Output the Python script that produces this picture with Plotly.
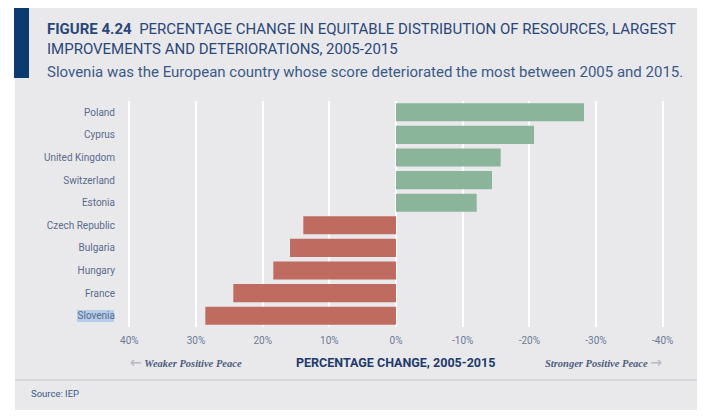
import plotly.graph_objects as go

countries = ["Poland", "Cyprus", "United Kingdom", "Switzerland", "Estonia",
             "Czech Republic", "Bulgaria", "Hungary", "France", "Slovenia"]
change_pct = [-28.2, -20.7, -15.7, -14.4, -12.1, 13.9, 15.9, 18.4, 24.4, 28.6]
tick_vals = [40, 30, 20, 10, 0, -10, -20, -30, -40]
tick_text = ["40%", "30%", "20%", "10%", "0%", "-10%", "-20%", "-30%", "-40%"]

GREEN = "#8AB59B"
RED = "#BF6B60"
bar_colors = [GREEN if v < 0 else RED for v in change_pct]

# page has an 8px body margin, so work in reference pixels and shift by 8
OFF = 8
W, H = 706 - OFF, 420 - OFF
L, R, T, B = 122 - OFF, 696 - OFF, 101 - OFF, 327 - OFF


def px(x):
    return (x - OFF - L) / (R - L)


def py(y):
    return (B - (y - OFF)) / (B - T)


fig = go.Figure(go.Bar(
    x=change_pct, y=countries, orientation="h",
    marker=dict(color=bar_colors, line=dict(width=0)),
    width=0.8, hoverinfo="x+y",
))

shapes = [
    dict(type="rect", xref="paper", yref="paper", x0=px(15), x1=px(697), y0=py(0), y1=py(410),
         fillcolor="#E9E9EB", line=dict(width=0), layer="below"),
    dict(type="rect", xref="paper", yref="paper", x0=px(14), x1=px(29), y0=py(0), y1=py(78),
         fillcolor="#0B3B70", line=dict(width=0), layer="below"),
    dict(type="line", xref="paper", yref="paper", x0=px(15), x1=px(697), y0=py(380), y1=py(380),
         line=dict(color="#D6D7DA", width=2), layer="below"),
    dict(type="rect", xref="paper", yref="paper", x0=px(77), x1=px(114), y0=py(310), y1=py(322),
         fillcolor="#B4CDE9", line=dict(width=0), layer="below"),
]

ARROW_STYLE = "color:#B8BCC4;font-family:DejaVu Sans;font-size:14px;font-weight:bold"

ann = [
    dict(x=px(45), y=py(18), xanchor="left", yanchor="top", align="left",
         text="<b>FIGURE 4.24</b>  PERCENTAGE CHANGE IN EQUITABLE DISTRIBUTION OF RESOURCES, LARGEST<br>IMPROVEMENTS AND DETERIORATIONS, 2005-2015",
         font=dict(family="Roboto", size=15, color="#2A4778")),
    dict(x=px(45), y=py(72), xanchor="left", yanchor="middle", align="left",
         text="Slovenia was the European country whose score deteriorated the most between 2005 and 2015.",
         font=dict(family="Roboto", size=15, color="#3A5A88")),
    dict(x=px(395), y=py(362), xanchor="center", yanchor="middle",
         text="<b>PERCENTAGE CHANGE, 2005-2015</b>",
         font=dict(family="Roboto", size=12.5, color="#1E3B6B")),
    dict(x=px(186), y=py(362), xanchor="center", yanchor="middle",
         text=f"<span style='{ARROW_STYLE}'>←</span> <b><i>Weaker Positive Peace</i></b>",
         font=dict(family="Liberation Serif", size=10.5, color="#4D5D7D")),
    dict(x=px(603), y=py(362), xanchor="center", yanchor="middle",
         text=f"<b><i>Stronger Positive Peace</i></b> <span style='{ARROW_STYLE}'>→</span>",
         font=dict(family="Liberation Serif", size=10.5, color="#4D5D7D")),
    dict(x=px(29), y=py(393), xanchor="left", yanchor="middle",
         text="Source: IEP",
         font=dict(family="Roboto", size=9.5, color="#3A5A88")),
]
for a in ann:
    a.update(xref="paper", yref="paper", showarrow=False)

fig.update_layout(
    width=W, height=H,
    margin=dict(l=L, r=W - R, t=T, b=H - B),
    paper_bgcolor="white",
    plot_bgcolor="rgba(0,0,0,0)",
    showlegend=False,
    shapes=shapes,
    annotations=ann,
    bargap=0.2,
    xaxis=dict(
        range=[41.1, -45], tickvals=tick_vals, ticktext=tick_text,
        showgrid=True, gridcolor="white", gridwidth=1.5,
        zeroline=False, showline=False, ticks="",
        ticklabelstandoff=6,
        tickfont=dict(family="Roboto", size=10, color="#6A7A96"),
        fixedrange=True,
    ),
    yaxis=dict(
        autorange="reversed", showgrid=False, zeroline=False, showline=False, ticks="",
        ticklabelstandoff=6,
        tickfont=dict(family="Roboto", size=10, color="#5A6B8C"),
        fixedrange=True,
    ),
)

fig.write_html("out.html")
